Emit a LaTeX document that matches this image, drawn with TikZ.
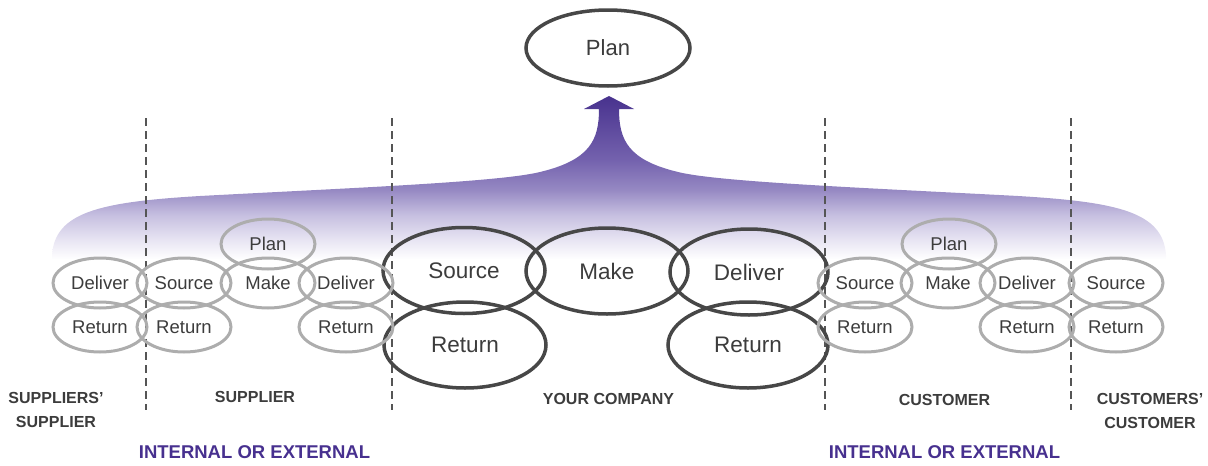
\documentclass[tikz,border=0pt]{standalone}
\usepackage{fontspec}
\setmainfont{Liberation Sans}
\usetikzlibrary{shapes.geometric}
\definecolor{darkline}{HTML}{474747}
\definecolor{grayline}{HTML}{ADADAD}
\definecolor{txt}{HTML}{3C3C3C}
\definecolor{purp}{HTML}{47308F}
\definecolor{sepcol}{HTML}{555555}
\definecolor{shA}{RGB}{72,50,142}
\definecolor{shB}{RGB}{116,98,174}
\definecolor{shC}{RGB}{150,137,195}
\definecolor{shD}{RGB}{198,191,224}
\definecolor{shE}{RGB}{232,229,243}
\pgfdeclareverticalshading{bandshade}{100bp}{color(0bp)=(white); color(25.8bp)=(white); color(31.6bp)=(shE); color(39.2bp)=(shD); color(46.7bp)=(shC); color(55.7bp)=(shB); color(75bp)=(shA); color(100bp)=(shA)}
\tikzset{
  bigell/.style={ellipse, draw=darkline, line width=3.5pt, minimum width=162pt, minimum height=86pt, inner sep=0pt, text=txt, font=\fontsize{22.5}{26}\selectfont},
  smallell/.style={ellipse, draw=grayline, line width=3pt, minimum width=94pt, minimum height=50pt, inner sep=0pt, text=txt, font=\fontsize{18.5}{22}\selectfont},
  lab/.style={text=txt, font=\bfseries\fontsize{16}{24}\selectfont, align=center, inner sep=0pt},
  ielab/.style={text=purp, font=\bfseries\fontsize{18.5}{22}\selectfont, inner sep=0pt},
  sepline/.style={draw=sepcol, line width=2pt, dash pattern=on 8pt off 5pt}
}
\begin{document}
\begin{tikzpicture}[x=1pt,y=-1pt]
\useasboundingbox (0,0) rectangle (1208,466);
% band with arrow
\shade[shading=bandshade] (52,262) -- (52,255)
  .. controls (55,212) and (100,202) .. (200,196)
  .. controls (350,188) and (500,182) .. (540,172)
  .. controls (590,160) and (599,140) .. (599,109)
  -- (584,109) -- (609,96) -- (634,109) -- (619,109)
  .. controls (619,140) and (628,160) .. (678,172)
  .. controls (718,182) and (868,188) .. (1018,196)
  .. controls (1118,202) and (1163,212) .. (1166,255)
  -- (1166,262) -- cycle;
% separators
\foreach \sx/\nm in {146/a,392/b,825/c,1071/d}{
  \coordinate (t\nm) at (\sx,118);
  \coordinate (b\nm) at (\sx,410);
  \draw[sepline] (t\nm) -- (b\nm);
}
% top plan
\node[bigell, minimum width=164pt, minimum height=76pt, font=\fontsize{22}{26}\selectfont] (plan) at (608,48) {Plan};
% your company
\node[bigell] (ysrc) at (464,270.5) {Source};
\node[bigell] (ymak) at (607,271) {Make};
\node[bigell, minimum width=158pt] (ydel) at (749,272) {Deliver};
\node[bigell] (yret1) at (465,345) {Return};
\node[bigell, minimum width=160pt] (yret2) at (748,345) {Return};
% suppliers' supplier
\node[smallell] (ssdel) at (100,283) {Deliver};
\node[smallell] (ssret) at (100,327) {Return};
% supplier
\node[smallell] (ssrc) at (184,283) {Source};
\node[smallell] (sret1) at (184,327) {Return};
\node[smallell] (splan) at (268,244) {Plan};
\node[smallell] (smak) at (268,283) {Make};
\node[smallell] (sdel) at (346,283) {Deliver};
\node[smallell] (sret2) at (346,327) {Return};
% customer
\node[smallell] (csrc) at (865,283) {Source};
\node[smallell] (cret1) at (865,327) {Return};
\node[smallell] (cplan) at (949,244) {Plan};
\node[smallell] (cmak) at (948,283) {Make};
\node[smallell] (cdel) at (1027,283) {Deliver};
\node[smallell] (cret2) at (1027,327) {Return};
% customers' customer
\node[smallell] (ccsrc) at (1116,283) {Source};
\node[smallell] (ccret) at (1116,327) {Return};
% labels
\node[lab] (lss) at (56,410) {SUPPLIERS’\\SUPPLIER};
\node[lab] (lsup) at (255,397) {SUPPLIER};
\node[lab] (lyc) at (608.5,399) {YOUR COMPANY};
\node[lab] (lcu) at (944.5,400) {CUSTOMER};
\node[lab] (lcc) at (1150,411) {CUSTOMERS’\\CUSTOMER};
\node[ielab] (ie1) at (254.5,452) {INTERNAL OR EXTERNAL};
\node[ielab] (ie2) at (944.5,452) {INTERNAL OR EXTERNAL};
\end{tikzpicture}
\end{document}
